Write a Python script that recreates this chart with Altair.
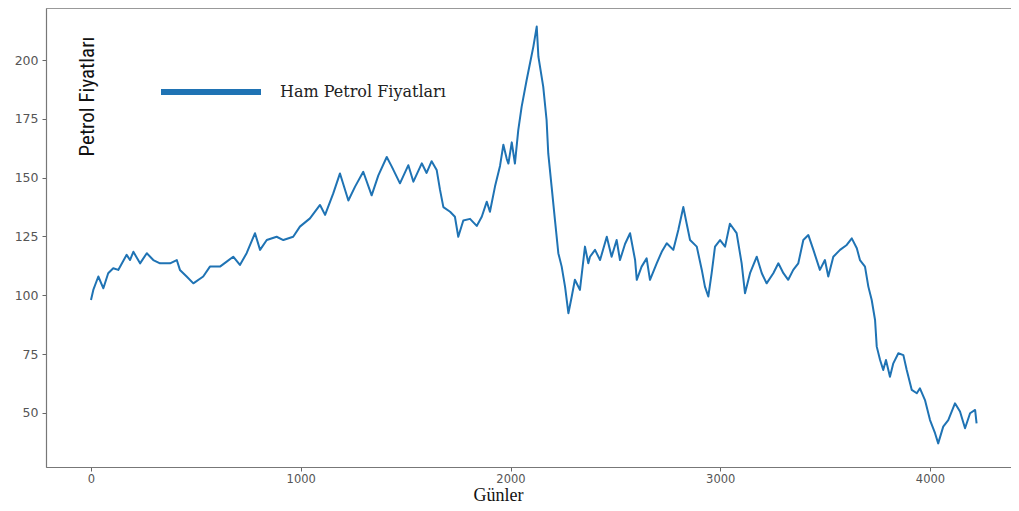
import altair as alt
import pandas as pd

# Values (day index, price)
days = [
    0, 11, 35, 59, 82, 106, 130, 170, 186, 202, 234, 266, 297, 329, 377, 409,
    424, 456, 488, 535, 567, 615, 647, 678, 710, 742, 782, 806, 838, 885, 917,
    964, 996, 1044, 1092, 1116, 1155, 1187, 1227, 1259, 1298, 1338, 1370, 1410,
    1434, 1473, 1513, 1537, 1577, 1600, 1624, 1648, 1664, 1680, 1712, 1735,
    1751, 1775, 1807, 1839, 1863, 1887, 1902, 1926, 1950, 1966, 1982, 1990,
    2006, 2021, 2037, 2053, 2077, 2093, 2109, 2125, 2133, 2156, 2172, 2180,
    2196, 2212, 2228, 2244, 2260, 2276, 2292, 2307, 2331, 2355, 2371, 2379,
    2403, 2427, 2459, 2482, 2506, 2522, 2546, 2570, 2594, 2602, 2625, 2649,
    2665, 2697, 2721, 2745, 2776, 2800, 2824, 2840, 2856, 2888, 2912, 2927,
    2943, 2959, 2975, 2999, 3023, 3046, 3078, 3102, 3118, 3142, 3174, 3198,
    3221, 3253, 3277, 3301, 3324, 3348, 3372, 3396, 3420, 3444, 3475, 3499,
    3515, 3539, 3571, 3603, 3627, 3651, 3666, 3690, 3706, 3722, 3738, 3746,
    3762, 3777, 3790, 3809, 3825, 3849, 3873, 3889, 3913, 3937, 3952, 3976,
    4000, 4024, 4039, 4063, 4087, 4119, 4143, 4167, 4191, 4215, 4222,
]
prices = [
    98.0, 102.3, 108.0, 103.0, 109.4, 111.5, 110.8, 117.2, 115.0, 118.5, 113.6,
    117.9, 115.0, 113.6, 113.6, 115.0, 110.8, 108.0, 105.1, 108.0, 112.2, 112.2,
    114.3, 116.4, 112.9, 117.9, 126.4, 119.3, 123.5, 124.9, 123.5, 124.9, 129.2,
    132.7, 138.4, 134.2, 143.3, 151.8, 140.3, 146.2, 152.5, 142.5, 151.0, 158.8,
    154.7, 147.6, 155.3, 148.3, 156.1, 152.0, 157.0, 153.3, 144.8, 137.5, 135.5,
    133.4, 124.9, 131.8, 132.5, 129.5, 133.4, 139.8, 135.5, 146.2, 155.0, 164.0,
    158.0, 156.0, 165.0, 156.0, 170.2, 180.1, 191.5, 198.6, 205.7, 214.2, 201.4,
    188.7, 174.5, 160.3, 146.2, 132.0, 117.9, 112.2, 103.7, 92.4, 99.5, 106.6,
    102.3, 120.7, 113.6, 116.4, 119.3, 115.0, 124.9, 116.4, 123.5, 115.0, 121.8,
    126.4, 115.0, 106.6, 112.2, 115.7, 106.6, 113.6, 118.5, 122.1, 119.3, 127.8,
    137.5, 130.4, 123.5, 120.7, 110.8, 103.7, 99.5, 109.4, 120.7, 123.5, 120.7,
    130.4, 126.4, 113.6, 100.9, 109.4, 116.4, 109.4, 105.1, 109.4, 113.6, 109.4,
    106.6, 110.8, 113.6, 123.5, 125.6, 119.3, 110.8, 115.0, 108.0, 116.4, 119.3,
    121.4, 124.2, 120.0, 115.0, 112.2, 103.7, 98.0, 89.5, 78.2, 72.5, 68.3, 72.5,
    65.4, 71.1, 75.4, 74.6, 68.3, 59.8, 58.4, 60.5, 55.5, 47.0, 41.4, 37.1, 44.2,
    47.0, 54.1, 50.6, 43.5, 49.9, 51.3, 45.6,
]
series_name = "Ham Petrol Fiyatları"
x_ticks = [0, 1000, 2000, 3000, 4000]
y_ticks = [50, 75, 100, 125, 150, 175, 200]

df = pd.DataFrame({"Gün": days, "Fiyat": prices, "Seri": [series_name] * len(days)})

line_color = "#1f73b4"

chart = alt.Chart(df).mark_line(strokeWidth=2, strokeJoin="round").encode(
    x=alt.X(
        "Gün:Q",
        scale=alt.Scale(domain=[-214.5, 4386.1], nice=False, zero=False),
        axis=alt.Axis(
            values=x_ticks, format="d", title="Günler", titleFont="Liberation Serif",
            titleFontSize=18, titleFontWeight="normal", titleColor="#111",
            titleX=452, titleY=28, titleBaseline="middle", titleAlign="center",
            labelPadding=2, labelFontSize=11.5,
        ),
    ),
    y=alt.Y(
        "Fiyat:Q",
        scale=alt.Scale(domain=[27.05, 222.1], nice=False, zero=False),
        axis=alt.Axis(
            values=y_ticks, title="Petrol Fiyatları",
            titleFont="Liberation Sans Narrow, Roboto Condensed, Liberation Sans",
            titleFontSize=21, titleFontWeight="normal", titleColor="#111",
            titleAngle=-90, titleX=41, titleY=88, titleAlign="center",
            titleBaseline="middle", labelPadding=4,
        ),
    ),
    color=alt.Color(
        "Seri:N",
        scale=alt.Scale(range=[line_color]),
        legend=alt.Legend(
            title=None, orient="none", legendX=112, legendY=31, padding=0,
            symbolType="stroke", symbolSize=10000, symbolStrokeWidth=6,
            labelOffset=16, labelFont="DejaVu Serif", labelFontSize=16,
            labelLimit=400, labelColor="#222",
        ),
    ),
).properties(
    width=965,
    height=459,
    autosize=alt.AutoSizeParams(type="none"),
    padding={"left": 38, "top": 0, "right": 0, "bottom": 36},
).configure_view(
    stroke="#999", strokeWidth=1
).configure_axis(
    grid=False, labelFont="DejaVu Sans", labelFontSize=12.5, labelColor="#555",
    tickColor="#666", tickSize=4, domainColor="#777", domainWidth=1.2,
)

chart.save("out.html", embed_options={"renderer": "svg", "actions": False})
